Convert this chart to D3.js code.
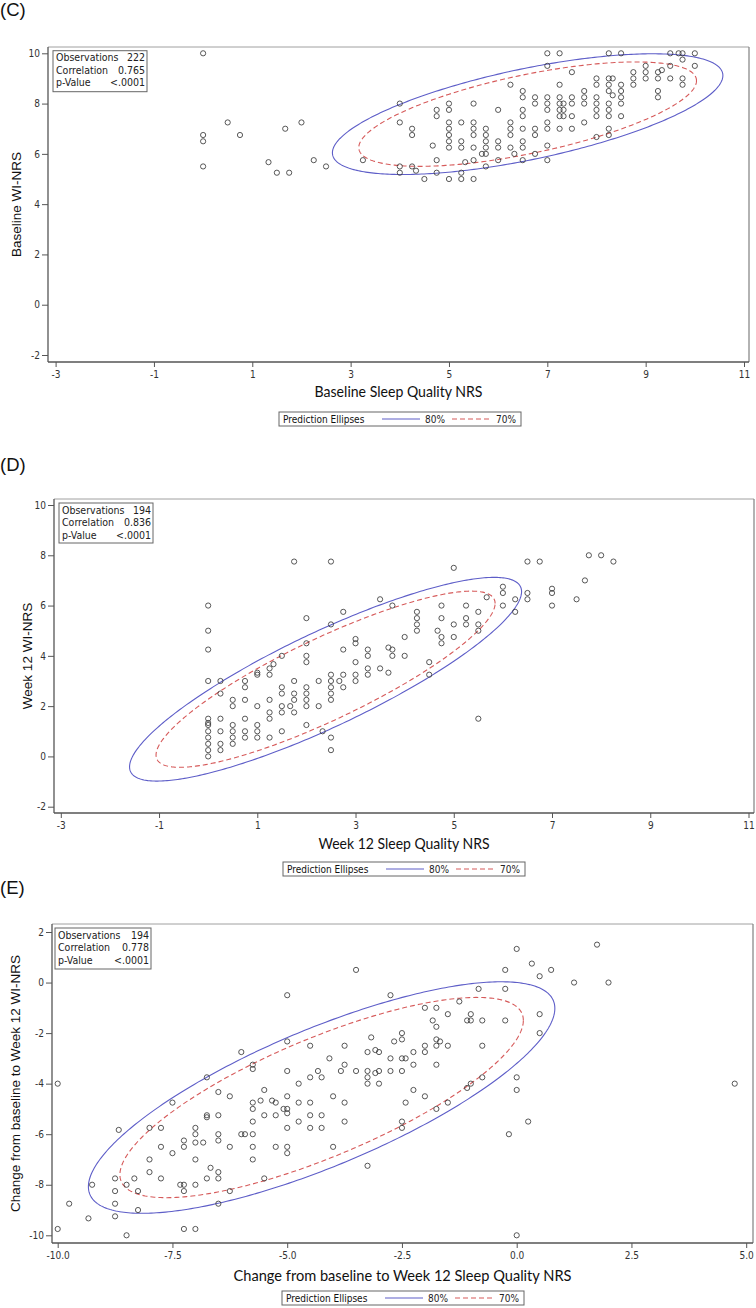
<!DOCTYPE html>
<html><head><meta charset="utf-8">
<script src="https://cdn.jsdelivr.net/npm/d3@7"></script>
<style>
body{margin:0;background:#fff}
svg{display:block}
.narrow{font-family:"Liberation Sans Narrow","Arial Narrow","DejaVu Sans Condensed",sans-serif;font-stretch:condensed}
.tick text{font-family:"Liberation Sans Narrow","Arial Narrow","DejaVu Sans Condensed",sans-serif;font-stretch:condensed;font-size:10px;fill:#333}
</style></head><body>
<svg id="chart" width="756" height="1308"></svg>
<script>
// ---------------- data ----------------
const panelLabels = ["(C)", "(D)", "(E)"];
const xTitles = ["Baseline Sleep Quality NRS", "Week 12 Sleep Quality NRS", "Change from baseline to Week 12 Sleep Quality NRS"];
const yTitles = ["Baseline WI-NRS", "Week 12 WI-NRS", "Change from baseline to Week 12 WI-NRS"];

const xTicksCD = [-3, -1, 1, 3, 5, 7, 9, 11];
const yTicksCD = [10, 8, 6, 4, 2, 0, -2];
const xTicksE = [-10, -7.5, -5, -2.5, 0, 2.5, 5];
const yTicksE = [2, 0, -2, -4, -6, -8, -10];

const statLabels = ["Observations", "Correlation", "p-Value"];
const cStats = ["222", "0.765", "<.0001"];
const dStats = ["194", "0.836", "<.0001"];
const eStats = ["194", "0.778", "<.0001"];

const legendTitle = "Prediction Ellipses";
const ellipseLevels = [0.8, 0.7];
const ellipseLabels = ["80%", "70%"];

// ellipse parameters: [meanX, meanY, sdX, sdY, rho]
const cEllipse = [6.6, 7.58, 2.213, 1.338, 0.64];
const dEllipse = [2.39, 3.07, 2.224, 2.258, 0.86];
const eEllipse = [-4.25, -4.55, 2.832, 2.553, 0.77];

const cPoints = [
[0,10],[0,6.75],[0,6.5],[0,5.5],[0.5,7.25],[0.75,6.75],[1.33,5.67],[1.5,5.25],[1.67,7],[1.75,5.25],[2,7.25],[2.25,5.75],[2.5,5.5],[3.25,5.75],
[4,8],[4,7.25],[4,5.5],[4,5.25],[4.25,7],[4.25,6.75],[4.25,5.5],[4.33,5.33],[4.5,5],[4.67,6.33],
[4.75,7.75],[4.75,7.5],[4.75,5.75],[4.75,5.25],
[5,8],[5,7.75],[5,7.25],[5,7],[5,6.75],[5,6.5],[5,6.25],[5,5],
[5.25,7.25],[5.25,6.5],[5.25,6.25],[5.25,5.25],[5.25,5],[5.33,5.67],
[5.5,8],[5.5,7.25],[5.5,7],[5.5,6.75],[5.5,6.25],[5.5,5.75],[5.5,5],[5.67,6],
[5.75,7],[5.75,6.75],[5.75,6.5],[5.75,6.25],[5.75,6],[5.75,5.5],
[6,7.75],[6,6.5],[6,6.25],[6,5.75],
[6.25,8.75],[6.25,7.25],[6.25,7],[6.25,6.75],[6.25,6.25],[6.33,6],
[6.5,8.5],[6.5,8.25],[6.5,7.75],[6.5,7.5],[6.5,7],[6.5,6.5],[6.5,6.25],[6.5,5.75],
[6.75,8.25],[6.75,8],[6.75,7],[6.75,6.75],[6.75,6],
[7,10],[7,9.5],[7,8.25],[7,8],[7,7.75],[7,7.25],[7,7],[7,6.33],[7,5.75],
[7.25,10],[7.25,8.75],[7.25,8.25],[7.25,8],[7.25,7.75],[7.25,7.5],[7.25,7],
[7.33,8],[7.33,7.75],[7.33,7.5],
[7.5,9.25],[7.5,8.25],[7.5,8],[7.5,7.5],[7.5,7],
[7.75,8.5],[7.75,8.25],[7.75,8],[7.75,7.25],
[8,9],[8,8.75],[8,8.25],[8,8],[8,7.75],[8,7.5],[8,6.67],
[8.25,10],[8.25,9],[8.25,8.75],[8.25,8.5],[8.25,8],[8.25,7.75],[8.25,7.5],[8.25,7],[8.25,6.75],
[8.33,9],[8.33,8.33],
[8.5,10],[8.5,8.75],[8.5,8.5],[8.5,8.25],[8.5,8],[8.5,7.5],
[8.75,9.25],[8.75,9],[8.75,8.75],
[9,9.5],[9,9.25],[9,9],
[9.25,9.25],[9.25,9],[9.25,8.5],[9.25,8.25],[9.33,9.33],
[9.5,10],[9.5,9.5],[9.5,9],[9.67,10],
[9.75,10],[9.75,9.75],[9.75,9],[9.75,8.75],
[10,10],[10,9.5]
];

const dPoints = [
[1.75,7.75],[2.5,7.75],[5,7.5],[6.5,7.75],[6.75,7.75],[7.75,8],[8,8],[8.25,7.75],[7.67,7],[7.5,6.25],
[7,6.67],[7,6.5],[7,6],[6.5,6.5],[6.5,6.25],[6.25,6.25],[6.25,5.75],[6,6.75],[6,6.5],[6,6],
[5.5,5.75],[5.5,5.25],[5.5,5],[5.5,1.5],[5.67,6.33],[5.25,6],[5.25,5.5],[5.25,5.25],[5,5.25],[5,4.75],
[4.75,6],[4.75,5.5],[4.75,4.75],[4.75,4.5],[4.67,5],[4.5,3.75],[4.5,3.25],[4.25,5.75],[4.25,5.5],[4.25,5.25],[4.25,5],
[4,4.75],[4,4],[3.75,6],[3.75,4.25],[3.75,4],[3.67,4.33],[3.67,3.33],[3.5,6.25],[3.5,3.5],
[3.25,4.25],[3.25,4],[3.25,3.5],[3.25,3.25],[3,4.67],[3,4.5],[3,3.75],[3,3.25],[3,3],
[2.75,5.75],[2.75,4.25],[2.75,3.25],[2.75,2.75],[2.67,3],[2.5,5.25],[2.5,3.25],[2.5,3],[2.5,2.75],[2.5,2.5],[2.5,2.25],[2.5,0.75],[2.5,0.25],
[2.33,1],[2.25,3],[2.25,2],[2,5.5],[2,4.5],[2,4],[2,3.75],[2,2.75],[2,2.5],[2,2.25],[2,2],[2,1.25],
[1.75,3],[1.75,2.5],[1.75,2.25],[1.75,1.75],[1.67,2],[1.5,4],[1.5,2.75],[1.5,2.5],[1.5,2],[1.5,1.75],[1.5,1],
[1.33,3.67],[1.25,3.5],[1.25,3.25],[1.25,2.25],[1.25,1.75],[1.25,1.5],[1.25,0.75],
[1,3.33],[1,3.25],[1,2],[1,1.25],[1,1],[1,0.75],
[0.75,3],[0.75,2.75],[0.75,2.25],[0.75,1.5],[0.75,1],[0.75,0.75],
[0.5,2.25],[0.5,2],[0.5,1.25],[0.5,1],[0.5,0.75],[0.5,0.5],
[0.25,3],[0.25,2.5],[0.25,1.5],[0.25,1],[0.25,0.5],[0.25,0.25],
[0,6],[0,5],[0,4.25],[0,3],[0,1.5],[0,1.33],[0,1.25],[0,1],[0,0.75],[0,0.5],[0,0.25],[0,0]
];

const ePoints = [
[0,1.33],[0.33,0.75],[0.5,0.25],[0.75,0.5],[-0.25,0.5],[-0.25,-0.25],[-0.83,-0.25],[-3.5,0.5],[-5,-0.5],[-2.75,-0.5],
[0.5,-1.25],[0.5,-2],[-0.25,-1.5],[0,-3.75],[0,-4.25],[0.25,-5.5],[-0.17,-6],[0,-10],[1.75,1.5],[1.25,0],[2,0],[4.75,-4],
[-0.75,-2.5],[-0.75,-1.5],[-0.75,-3.75],[-1,-1.25],[-1,-1.5],[-1.08,-1.5],[-1.25,-0.75],[-1.08,-4.17],[-1,-4],
[-1.5,-1.25],[-1.5,-2.5],[-1.5,-4.75],
[-1.75,-1],[-1.75,-1.75],[-1.75,-2.25],[-1.75,-2.5],[-1.75,-3.25],[-1.75,-5],[-1.83,-1.5],[-1.67,-2.33],
[-2,-1],[-2,-2.5],[-2,-2.75],[-2,-4.5],[-2.25,-2.75],[-2.25,-3.25],[-2.25,-4.25],[-2.42,-3],[-2.42,-4.75],
[-2.5,-2],[-2.5,-2.25],[-2.5,-3],[-2.5,-3.5],[-2.5,-5.5],[-2.5,-5.75],[-2.67,-2.33],[-2.75,-3],[-2.75,-3.5],
[-3,-2.75],[-3,-3.5],[-3,-4],[-3.08,-2.67],[-3.08,-3.58],[-3.25,-2.75],[-3.25,-3.5],[-3.25,-3.75],[-3.25,-4],[-3.25,-7.25],[-3.17,-2.17],
[-3.5,-3.5],[-3.75,-2.5],[-3.75,-3.25],[-3.75,-4.75],[-3.75,-5.5],[-3.83,-3.5],[-4,-6.5],[-4,-4.5],[-4.08,-3],
[-4.25,-3.75],[-4.25,-5.25],[-4.25,-5.75],[-4.33,-3.5],[-4.5,-2.5],[-4.5,-3.75],[-4.5,-4.75],[-4.5,-5.25],[-4.5,-5.75],
[-4.75,-4],[-4.75,-4.75],[-4.75,-5.5],
[-5,-2.33],[-5,-3.5],[-5,-4.5],[-5,-5],[-5,-5.17],[-5,-5.75],[-5,-6.5],[-5,-6.75],[-5.08,-5],
[-5.25,-4.75],[-5.25,-5.25],[-5.25,-6.5],[-5.33,-4.67],[-5.5,-4.25],[-5.5,-5.25],[-5.5,-7.75],[-5.58,-4.67],
[-5.75,-3.25],[-5.75,-3.42],[-5.75,-4.75],[-5.75,-5],[-5.75,-5.5],[-5.75,-6],[-5.75,-6.5],[-5.75,-7],
[-6,-2.75],[-6,-6],[-5.92,-6],[-6.25,-4.5],[-6.25,-6.5],[-6.25,-8.25],
[-6.5,-4.33],[-6.5,-5.25],[-6.5,-6],[-6.5,-6.25],[-6.5,-7.5],[-6.5,-7.75],[-6.5,-8.75],[-6.67,-7.33],
[-6.75,-3.75],[-6.75,-5.25],[-6.75,-5.33],[-6.75,-7.75],[-6.83,-6.33],
[-7,-5.75],[-7,-6],[-7,-6.33],[-7,-7],[-7,-8],[-7,-9.75],
[-7.25,-6.25],[-7.25,-6.5],[-7.25,-8],[-7.25,-8.25],[-7.25,-9.75],[-7.33,-8],
[-7.5,-4.75],[-7.5,-6.75],[-7.75,-5.75],[-7.75,-6.5],[-7.75,-7.75],
[-8,-5.75],[-8,-7],[-8,-7.5],[-8.25,-8.25],[-8.25,-9],[-8.33,-7.75],[-8.5,-8],[-8.5,-10],[-8.67,-5.83],
[-8.75,-7.75],[-8.75,-8.25],[-8.75,-8.75],[-8.75,-9.25],[-9.25,-8],[-9.33,-9.33],[-9.75,-8.75],[-10,-4],[-10,-9.75]
];

// ---------------- layout ----------------
const intFmt = d => String(d);
const oneDec = d => d.toFixed(1);
const panels = [
  {label: panelLabels[0], labelY: 16, pts: cPoints, ell: cEllipse, stats: cStats,
   frame: [48, 47, 749, 362], xd: [-3, 11], xr: [55.6, 744], yd: [10, -2], yr: [53.3, 355],
   xt: xTicksCD, yt: yTicksCD, xfmt: intFmt, yfmt: intFmt,
   xTitle: xTitles[0], xTitleY: 397, xTitleW: 168, yTitle: yTitles[0], yTitleX: 16,
   legend: [279, 412], statBox: [53, 50.7, 94, 41]},
  {label: panelLabels[1], labelY: 471, pts: dPoints, ell: dEllipse, stats: dStats,
   frame: [54, 499, 754, 813], xd: [-3, 11], xr: [60.8, 748.5], yd: [10, -2], yr: [505, 806.7],
   xt: xTicksCD, yt: yTicksCD, xfmt: intFmt, yfmt: intFmt,
   xTitle: xTitles[1], xTitleY: 849, xTitleW: 171, yTitle: yTitles[1], yTitleX: 27,
   legend: [283, 862], statBox: [59, 503, 94, 40]},
  {label: panelLabels[2], labelY: 894, pts: ePoints, ell: eEllipse, stats: eStats,
   frame: [52, 924, 753, 1243], xd: [-10, 5], xr: [57.7, 746.2], yd: [2, -10], yr: [932, 1235.3],
   xt: xTicksE, yt: yTicksE, xfmt: oneDec, yfmt: intFmt,
   xTitle: xTitles[2], xTitleY: 1281, xTitleW: 338, yTitle: yTitles[2], yTitleX: 15,
   legend: [282, 1291], statBox: [55, 928, 96, 41]}
];

const svg = d3.select("#chart");
const BLUE = "#5e5ec8", RED = "#d65a5a";

panels.forEach((p, i) => {
  const g = svg.append("g");
  const [fl, ft, fr, fb] = p.frame;
  const x = d3.scaleLinear().domain(p.xd).range(p.xr);
  const y = d3.scaleLinear().domain(p.yd).range(p.yr);

  // panel label
  g.append("text").attr("x", 0).attr("y", p.labelY)
    .attr("font-family", "'Liberation Sans', Arial, sans-serif").attr("font-size", 18.5)
    .attr("fill", "#111").text(p.label);

  // clip
  const cid = "clip" + i;
  g.append("clipPath").attr("id", cid).append("rect")
    .attr("x", fl).attr("y", ft).attr("width", fr - fl).attr("height", fb - ft);

  // frame (top/right lighter)
  g.append("line").attr("x1", fl).attr("x2", fr).attr("y1", ft).attr("y2", ft).attr("stroke", "#a0a0a0").attr("stroke-width", 1);
  g.append("line").attr("x1", fr).attr("x2", fr).attr("y1", ft).attr("y2", fb).attr("stroke", "#808080").attr("stroke-width", 1.2);
  g.append("line").attr("x1", fl).attr("x2", fl).attr("y1", ft).attr("y2", fb).attr("stroke", "#555").attr("stroke-width", 1.3);
  g.append("line").attr("x1", fl).attr("x2", fr).attr("y1", fb).attr("y2", fb).attr("stroke", "#555").attr("stroke-width", 1.3);

  // axes
  const xa = g.append("g").attr("transform", `translate(0,${fb})`)
    .call(d3.axisBottom(x).tickValues(p.xt).tickFormat(p.xfmt).tickSize(5).tickPadding(4));
  xa.select(".domain").remove();
  xa.selectAll(".tick line").attr("stroke", "#555");
  const ya = g.append("g").attr("transform", `translate(${fl},0)`)
    .call(d3.axisLeft(y).tickValues(p.yt).tickFormat(p.yfmt).tickSize(6).tickPadding(2));
  ya.select(".domain").remove();
  ya.selectAll(".tick line").attr("stroke", "#555");

  // ellipses
  const [mx, my, sx, sy, rho] = p.ell;
  const ts = d3.range(0, 361).map(d => d * Math.PI / 180);
  const line = d3.line().curve(d3.curveLinearClosed);
  ellipseLevels.forEach((lev, k) => {
    const c = Math.sqrt(-2 * Math.log(1 - lev));
    const pts = ts.map(t => [
      x(mx + c * sx * Math.cos(t)),
      y(my + c * sy * (rho * Math.cos(t) + Math.sqrt(1 - rho * rho) * Math.sin(t)))
    ]);
    g.append("path").attr("d", line(pts)).attr("fill", "none")
      .attr("clip-path", `url(#${cid})`)
      .attr("stroke", k === 0 ? BLUE : RED).attr("stroke-width", 1.1)
      .attr("stroke-dasharray", k === 0 ? null : "5,3");
  });

  // points
  g.append("g").attr("clip-path", `url(#${cid})`).selectAll("circle").data(p.pts).join("circle")
    .attr("cx", d => x(d[0])).attr("cy", d => y(d[1])).attr("r", 2.6)
    .attr("fill", "none").attr("stroke", "#3a3a3a").attr("stroke-width", 0.85);

  // stat box
  const [bx, by, bw, bh] = p.statBox;
  g.append("rect").attr("x", bx).attr("y", by).attr("width", bw).attr("height", bh)
    .attr("fill", "#fff").attr("stroke", "#666").attr("stroke-width", 1);
  statLabels.forEach((s, k) => {
    const ty = by + 10.5 + k * 12.5;
    g.append("text").attr("class", "narrow").attr("x", bx + 3).attr("y", ty).attr("font-size", 10.5)
      .attr("fill", "#222").text(s);
    g.append("text").attr("class", "narrow").attr("x", bx + bw - 2).attr("y", ty).attr("font-size", 10.5)
      .attr("text-anchor", "end").attr("fill", "#222").text(p.stats[k]);
  });

  // x title
  g.append("text").attr("x", (fl + fr) / 2).attr("y", p.xTitleY)
    .attr("text-anchor", "middle").attr("font-family", "Lato, 'Open Sans', sans-serif")
    .attr("font-size", 16).attr("fill", "#111")
    .attr("textLength", p.xTitleW).attr("lengthAdjust", "spacingAndGlyphs")
    .text(p.xTitle);

  // y title
  g.append("text").attr("transform", `translate(${p.yTitleX},${(ft + fb) / 2}) rotate(-90)`)
    .attr("text-anchor", "middle").attr("dy", "0.35em")
    .attr("font-family", "'Liberation Sans', Arial, sans-serif").attr("font-size", 13.5)
    .attr("fill", "#111").text(p.yTitle);

  // legend
  const [lx, ly] = p.legend;
  const lg = g.append("g").attr("transform", `translate(${lx},${ly})`);
  lg.append("rect").attr("width", 242).attr("height", 14).attr("fill", "#fff")
    .attr("stroke", "#666").attr("stroke-width", 1);
  lg.append("text").attr("class", "narrow").attr("x", 4).attr("y", 10.5).attr("font-size", 10)
    .attr("fill", "#111").text(legendTitle);
  lg.append("line").attr("x1", 103).attr("x2", 141).attr("y1", 7).attr("y2", 7)
    .attr("stroke", BLUE).attr("stroke-width", 1.1);
  lg.append("text").attr("class", "narrow").attr("x", 146).attr("y", 10.5).attr("font-size", 10)
    .attr("fill", "#222").text(ellipseLabels[0]);
  lg.append("line").attr("x1", 173).attr("x2", 212).attr("y1", 7).attr("y2", 7)
    .attr("stroke", RED).attr("stroke-width", 1.1).attr("stroke-dasharray", "5,3");
  lg.append("text").attr("class", "narrow").attr("x", 217).attr("y", 10.5).attr("font-size", 10)
    .attr("fill", "#222").text(ellipseLabels[1]);
});
</script>
</body></html>
